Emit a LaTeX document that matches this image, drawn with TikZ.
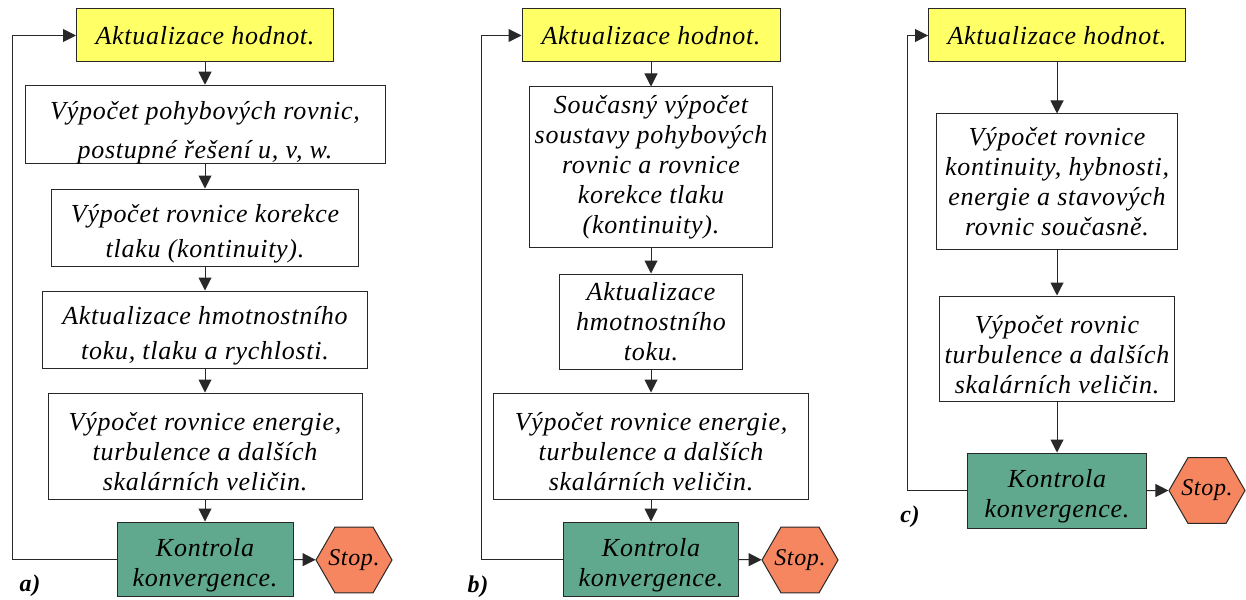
\documentclass[tikz,border=0pt]{standalone}
\usepackage{fontspec}
\setmainfont[LetterSpace=2.8]{Liberation Serif}
\definecolor{hodyellow}{RGB}{255, 255, 102}
\definecolor{kongreen}{RGB}{96, 168, 142}
\definecolor{stoporange}{RGB}{246, 134, 96}
\definecolor{edgegray}{RGB}{40, 40, 40}
\usetikzlibrary{shapes.geometric, arrows.meta}
\newcommand{\odsaz}{\rule{0pt}{30pt}}

\tikzset{
  krok/.style={draw=edgegray, fill=white, line width=1pt, align=center, inner sep=0pt,
    font=\fontsize{26}{30}\selectfont\itshape},
  aktual/.style={krok, fill=hodyellow},
  kontrola/.style={krok, fill=kongreen},
  stopnode/.style={krok, fill=stoporange, regular polygon, regular polygon sides=6,
    minimum size=76pt, inner sep=-7pt, font=\fontsize{24}{28}\selectfont\itshape},
  sipka/.style={draw=edgegray, line width=1pt, -{Triangle[length=13pt, width=13pt]}},
  popis/.style={font=\fontsize{24}{26}\selectfont\bfseries\itshape}
}

\begin{document}
\begin{tikzpicture}[x=1pt, y=-1pt]
  \useasboundingbox (0,0) rectangle (1246,599);

  % a) sequential solution
  \node[aktual, minimum width=257pt, minimum height=53pt] (ay) at (205, 35.5) {Aktualizace hodnot.};
  \node[krok, minimum width=360pt, minimum height=75pt] (a2) at (205, 124.5) {\rule{0pt}{34pt}Výpočet pohybových rovnic,\\[9pt] postupné řešení u, v, w.};
  \node[krok, minimum width=307pt, minimum height=77pt] (a3) at (205, 227.5) {\odsaz Výpočet rovnice korekce\\[5pt] tlaku (kontinuity).};
  \node[krok, minimum width=325pt, minimum height=77pt] (a4) at (205, 329.5) {\odsaz Aktualizace hmotnostního\\[5pt] toku, tlaku a rychlosti.};
  \node[krok, minimum width=314pt, minimum height=106pt] (a5) at (205, 446) {\odsaz Výpočet rovnice energie,\\ turbulence a dalších\\ skalárních veličin.};
  \node[kontrola, minimum width=176pt, minimum height=74pt] (ak) at (205, 559) {\odsaz Kontrola\\ konvergence.};
  \node[stopnode] (astop) at (354, 560) {Stop.};
  \coordinate (aloop) at (12, 300);
  \node[popis] (alab) at (30, 586) {a)};

  \draw[sipka] (ay) -- (a2);
  \draw[sipka] (a2) -- (a3);
  \draw[sipka] (a3) -- (a4);
  \draw[sipka] (a4) -- (a5);
  \draw[sipka] (a5) -- (ak);
  \draw[sipka] (ak) -- (astop);
  \draw[sipka] (ak.west) -- (ak.west -| aloop) |- (ay.west);

  % b) coupled solution
  \node[aktual, minimum width=258pt, minimum height=53pt] (by) at (651, 35.5) {Aktualizace hodnot.};
  \node[krok, minimum width=243pt, minimum height=160pt] (b2) at (651, 167) {Současný výpočet\\ soustavy pohybových\\ rovnic a rovnice\\ korekce tlaku\\ (kontinuity).};
  \node[krok, minimum width=183pt, minimum height=95pt] (b3) at (651, 321.5) {Aktualizace\\ hmotnostního\\ toku.};
  \node[krok, minimum width=315pt, minimum height=106pt] (b4) at (651, 446) {\odsaz Výpočet rovnice energie,\\ turbulence a dalších\\ skalárních veličin.};
  \node[kontrola, minimum width=175pt, minimum height=74pt] (bk) at (651, 559) {\odsaz Kontrola\\ konvergence.};
  \node[stopnode] (bstop) at (800, 560) {Stop.};
  \coordinate (bloop) at (481, 300);
  \node[popis] (blab) at (478, 587) {b)};

  \draw[sipka] (by) -- (b2);
  \draw[sipka] (b2) -- (b3);
  \draw[sipka] (b3) -- (b4);
  \draw[sipka] (b4) -- (bk);
  \draw[sipka] (bk) -- (bstop);
  \draw[sipka] (bk.west) -- (bk.west -| bloop) |- (by.west);

  % c) fully coupled solution
  \node[aktual, minimum width=257pt, minimum height=53pt] (cy) at (1057, 35.5) {Aktualizace hodnot.};
  \node[krok, minimum width=241pt, minimum height=135pt] (c2) at (1057, 181.5) {Výpočet rovnice\\ kontinuity, hybnosti,\\ energie a stavových\\ rovnic současně.};
  \node[krok, minimum width=235pt, minimum height=105pt] (c3) at (1057, 348.5) {\odsaz Výpočet rovnic\\ turbulence a dalších\\ skalárních veličin.};
  \node[kontrola, minimum width=179pt, minimum height=75pt] (ck) at (1057, 490.5) {\odsaz Kontrola\\ konvergence.};
  \node[stopnode] (cstop) at (1207, 490.5) {Stop.};
  \coordinate (cloop) at (907, 300);
  \node[popis] (clab) at (910, 517) {c)};

  \draw[sipka] (cy) -- (c2);
  \draw[sipka] (c2) -- (c3);
  \draw[sipka] (c3) -- (ck);
  \draw[sipka] (ck) -- (cstop);
  \draw[sipka] (ck.west) -- (ck.west -| cloop) |- (cy.west);
\end{tikzpicture}
\end{document}
